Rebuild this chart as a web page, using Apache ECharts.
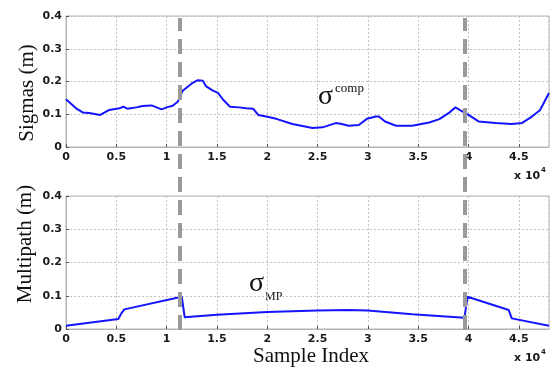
<!DOCTYPE html>
<html><head><meta charset="utf-8">
<script src="https://cdn.jsdelivr.net/npm/echarts@6/dist/echarts.min.js"></script>
<style>html,body{margin:0;padding:0;background:#fff}#c{width:559px;height:367px}</style>
</head><body><div id="c"></div>
<script>
// Top panel: sigma comp
const compIdx = [0,1000,1700,2300,3400,4300,5300,5700,6100,7000,7600,8500,9000,9500,10000,10600,11100,11600,12500,13100,13600,13900,14600,15100,15600,16300,17200,17900,18600,19100,19900,20900,22500,24500,25500,26800,27300,28100,29100,29900,30800,31100,31700,32800,34400,36100,37100,38100,38700,39200,40000,41000,42700,44300,45300,46300,47100,48000];
const compVal = [0.146,0.118,0.105,0.104,0.098,0.113,0.118,0.123,0.117,0.121,0.125,0.127,0.121,0.115,0.121,0.126,0.138,0.172,0.194,0.204,0.202,0.186,0.172,0.165,0.145,0.123,0.121,0.118,0.117,0.098,0.093,0.086,0.070,0.058,0.060,0.073,0.071,0.065,0.067,0.086,0.093,0.093,0.078,0.065,0.065,0.075,0.085,0.105,0.121,0.112,0.098,0.078,0.073,0.070,0.073,0.093,0.112,0.165];
// Bottom panel: multipath sigma
const mpIdx = [0,5200,5500,5800,11500,11800,15000,20000,25000,28000,30000,34400,39600,39900,44000,44300,48000];
const mpVal = [0.010,0.030,0.047,0.059,0.097,0.035,0.043,0.051,0.056,0.057,0.056,0.044,0.034,0.097,0.057,0.032,0.010];
// Event markers (sample index)
const eventIdx = [11300, 39600];
const xTicks = [0,5000,10000,15000,20000,25000,30000,35000,40000,45000];
const yTicks = [0,0.1,0.2,0.3,0.4];

const X_MAX = 48000;
const lbl = {fontFamily:'DejaVu Sans', fontWeight:'bold', fontSize:11, color:'#1a1a1a'};
const gridLine = {show:true, lineStyle:{color:'#c4c4c4', type:[2,2], width:1}};
const axLine = {show:true, lineStyle:{color:'#b4b4b4', width:1}};
const tick = {show:true, inside:true, length:3, lineStyle:{color:'#555'}};

function xAx(gi){
  return {type:'value', gridIndex:gi, min:0, max:X_MAX, interval:5000,
    axisLine:axLine, axisTick:tick, splitLine:gridLine,
    axisLabel:Object.assign({margin:5, showMaxLabel:false, formatter:v=>String(v/10000)}, lbl)};
}
function yAx(gi){
  return {type:'value', gridIndex:gi, min:0, max:0.4, interval:0.1,
    axisLine:axLine, axisTick:tick, splitLine:gridLine,
    axisLabel:Object.assign({margin:4}, lbl)};
}
const chart = echarts.init(document.getElementById('c'), null, {renderer:'canvas'});
chart.setOption({
  animation:false,
  grid:[
    {left:66, right:10, top:16, height:131, show:true, borderColor:'#b4b4b4', borderWidth:1},
    {left:66, right:10, top:196, height:133, show:true, borderColor:'#b4b4b4', borderWidth:1},
    {left:66, right:10, top:18, height:312}
  ],
  xAxis:[xAx(0), xAx(1), {type:'value', gridIndex:2, min:0, max:X_MAX, show:false}],
  yAxis:[yAx(0), yAx(1), {type:'value', gridIndex:2, min:0, max:1, show:false}],
  series:[
    {type:'line', xAxisIndex:0, yAxisIndex:0, showSymbol:false, symbol:'none',
     data:compIdx.map((x,i)=>[x,compVal[i]]), lineStyle:{color:'#1414ff', width:2}},
    {type:'line', xAxisIndex:1, yAxisIndex:1, showSymbol:false, symbol:'none',
     data:mpIdx.map((x,i)=>[x,mpVal[i]]), lineStyle:{color:'#1414ff', width:2}},
    {type:'line', xAxisIndex:2, yAxisIndex:2, data:[], z:10,
     markLine:{silent:true, symbol:['none','none'], label:{show:false},
       lineStyle:{color:'#9a9a9a', width:4, type:[15,8]},
       data:eventIdx.map(v=>({xAxis:v}))}}
  ],
  graphic:[
    {type:'text', x:27, y:93, rotation:Math.PI/2,
     style:{text:'Sigmas (m)', font:'21px "Liberation Serif"', fill:'#111', align:'center', verticalAlign:'middle'}},
    {type:'text', x:25, y:244, rotation:Math.PI/2,
     style:{text:'Multipath (m)', font:'21px "Liberation Serif"', fill:'#111', align:'center', verticalAlign:'middle'}},
    {type:'text', x:311, y:356,
     style:{text:'Sample Index', font:'21px "Liberation Serif"', fill:'#111', align:'center', verticalAlign:'middle'}},
    {type:'text', x:318, y:97,
     style:{text:'σ', font:'28px "Liberation Serif"', fill:'#111', align:'left', verticalAlign:'middle'}},
    {type:'text', x:335, y:89,
     style:{text:'comp', font:'13px "Liberation Serif"', fill:'#111', align:'left', verticalAlign:'middle'}},
    {type:'text', x:249, y:284,
     style:{text:'σ', font:'28px "Liberation Serif"', fill:'#111', align:'left', verticalAlign:'middle'}},
    {type:'text', x:265, y:297,
     style:{text:'MP', font:'12px "Liberation Serif"', fill:'#111', align:'left', verticalAlign:'middle'}},
    {type:'text', x:514, y:176,
     style:{text:'x 10', font:'bold 11px "DejaVu Sans"', fill:'#1a1a1a', align:'left', verticalAlign:'middle'}},
    {type:'text', x:541, y:170,
     style:{text:'4', font:'bold 7px "DejaVu Sans"', fill:'#1a1a1a', align:'left', verticalAlign:'middle'}},
    {type:'text', x:514, y:358,
     style:{text:'x 10', font:'bold 11px "DejaVu Sans"', fill:'#1a1a1a', align:'left', verticalAlign:'middle'}},
    {type:'text', x:541, y:352,
     style:{text:'4', font:'bold 7px "DejaVu Sans"', fill:'#1a1a1a', align:'left', verticalAlign:'middle'}}
  ]
});
</script></body></html>
